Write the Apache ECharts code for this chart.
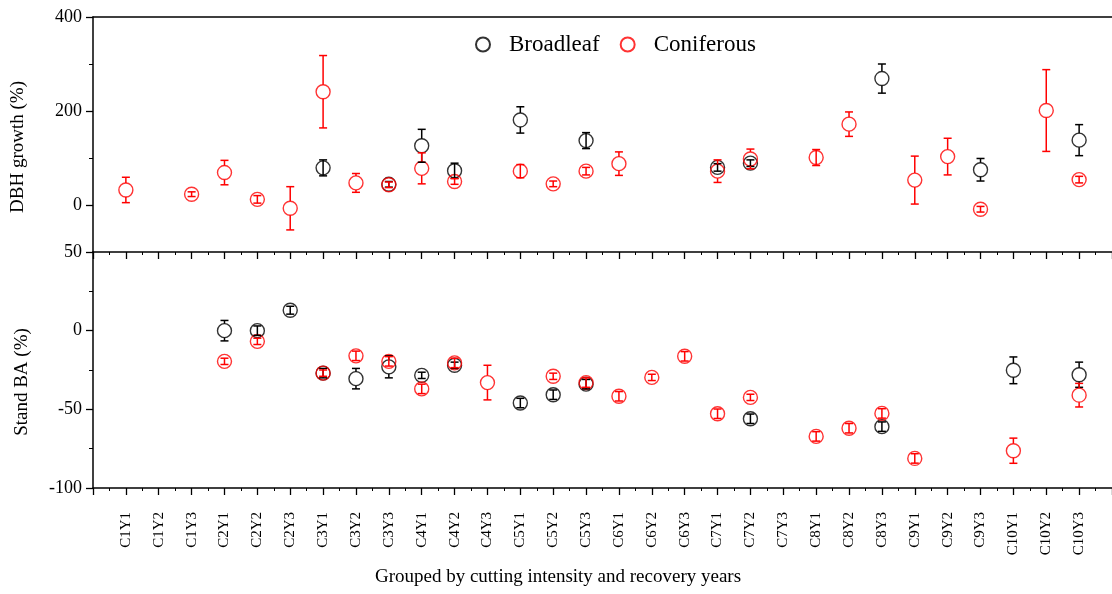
<!DOCTYPE html>
<html>
<head>
<meta charset="utf-8">
<script src="https://cdn.jsdelivr.net/npm/echarts@6/dist/echarts.min.js"></script>
<style>
html,body{margin:0;padding:0;background:#fff;}
#chart{width:1112px;height:594px;}
</style>
</head>
<body>
<div id="chart"></div>
<script>
// ---- Data ----
var categories = ['C1Y1','C1Y2','C1Y3','C2Y1','C2Y2','C2Y3','C3Y1','C3Y2','C3Y3','C4Y1','C4Y2','C4Y3','C5Y1','C5Y2','C5Y3','C6Y1','C6Y2','C6Y3','C7Y1','C7Y2','C7Y3','C8Y1','C8Y2','C8Y3','C9Y1','C9Y2','C9Y3','C10Y1','C10Y2','C10Y3'];

// DBH growth (%) — mean values and error (±)
var dbhBroadleaf    = [null,null,null,null,null,null,79,null,44,126,73,null,181,null,137,null,null,null,80,89,null,null,null,269,null,null,75,null,null,138];
var dbhBroadleafErr = [null,null,null,null,null,null,17,null,6,35,16,null,28,null,17,null,null,null,8,7,null,null,null,31,null,null,24,null,null,33];
var dbhConiferous    = [32,null,23,69,12,-7,241,47,43,78,50,null,72,45,72,88,null,null,72,98,null,101,172,null,53,103,-9,null,201,54];
var dbhConiferousErr = [27,null,5,26,8,46,77,20,6,33,6,null,14,6,8,25,null,null,24,21,null,17,26,null,51,39,6,null,87,7];

// Stand BA (%) — mean values and error (±)
var baBroadleaf    = [null,null,null,0,0,13,-27,-30.5,-23,-28.4,-22,null,-46,-40.7,-34,null,null,null,null,-56,null,null,null,-61,null,null,null,-25.2,null,-28];
var baBroadleafErr = [null,null,null,6.5,3,2.5,3,6.5,7,2,2,null,3,3,3,null,null,null,null,3,null,null,null,3,null,null,null,8.5,null,8];
var baConiferous    = [null,null,null,-19.5,-6.8,null,-27,-16,-19.5,-37,-20.5,-33,null,-29,-33,-41.7,-29.7,-16.3,-52.8,-42.4,null,-67.2,-62,-52.6,-81.2,null,null,-76.3,null,-41];
var baConiferousErr = [null,null,null,2,2,null,2,3,3,3,3,11,null,2,3,3,2,3,3,2,null,3,3,3,3,null,null,8,null,7.5];

var dbhTicks = [0, 200, 400];
var dbhMinorTicks = [100, 300];

// ---- Build ----
var FONT = 'Liberation Serif, Times New Roman, serif';
var RED = '#ff0000', BLACK = '#000000';
var SYM = 14;

function points(vals){
  var out = [];
  vals.forEach(function(v,i){ if(v !== null) out.push([i+1, v]); });
  return out;
}
function errData(vals, errs){
  var out = [];
  vals.forEach(function(v,i){ if(v !== null && errs[i] !== null) out.push([i+1, v - errs[i], v + errs[i], v]); });
  return out;
}
function errRender(color){
  return function(params, api){
    var x = api.value(0);
    var top = api.coord([x, api.value(2)]);
    var bot = api.coord([x, api.value(1)]);
    var mid = api.coord([x, api.value(3)]);
    var hw = 4, r = SYM/2;
    var children = [];
    var st = {stroke: color, lineWidth: 1.5};
    if (mid[1] - top[1] > r + 1) {
      children.push({type:'line', shape:{x1:top[0], y1:top[1], x2:top[0], y2:mid[1]-r}, style:st});
      children.push({type:'line', shape:{x1:bot[0], y1:mid[1]+r, x2:bot[0], y2:bot[1]}, style:st});
    } else {
      children.push({type:'line', shape:{x1:top[0], y1:top[1], x2:bot[0], y2:bot[1]}, style:st});
    }
    children.push({type:'line', shape:{x1:top[0]-hw, y1:top[1], x2:top[0]+hw, y2:top[1]}, style:st});
    children.push({type:'line', shape:{x1:bot[0]-hw, y1:bot[1], x2:bot[0]+hw, y2:bot[1]}, style:st});
    return {type:'group', children: children};
  };
}
function scatter(name, vals, color, xi, yi){
  return {
    type:'scatter', name:name, xAxisIndex:xi, yAxisIndex:yi,
    data: points(vals), symbol:'circle', symbolSize:SYM,
    itemStyle:{color:'rgba(0,0,0,0)', borderColor:color, borderWidth:1.4},
    emphasis:{disabled:true}, z:3
  };
}
function errSeries(name, vals, errs, color, xi, yi){
  return {
    type:'custom', name:name, xAxisIndex:xi, yAxisIndex:yi,
    data: errData(vals, errs), renderItem: errRender(color),
    encode:{x:0, y:[1,2]}, z:4, silent:true
  };
}

var axisLineStyle = {color:'#000', width:1.5};

var option = {
  animation:false,
  backgroundColor:'#fff',
  grid:[
    {left:93, top:17, width:1021, height:235},
    {left:93, top:252, width:1021, height:236}
  ],
  legend:{
    data:['Broadleaf','Coniferous'],
    left:470, top:28,
    itemWidth:42, itemHeight:14, itemGap:20,
    textStyle:{color:'#000', fontFamily:FONT, fontSize:23},
    selectedMode:false
  },
  xAxis:[
    { // top panel bottom axis
      type:'value', gridIndex:0, min:0, max:31, interval:1, position:'bottom',
      axisLine:{show:true, onZero:false, lineStyle:axisLineStyle},
      axisTick:{show:true, inside:false, length:7, lineStyle:{color:'#000', width:1.3}},
      minorTick:{show:true, splitNumber:2, length:3, lineStyle:{color:'#000', width:1}},
      axisLabel:{show:false}, splitLine:{show:false}
    },
    { // top panel top border
      type:'value', gridIndex:0, min:0, max:31, position:'top',
      axisLine:{show:true, onZero:false, lineStyle:axisLineStyle},
      axisTick:{show:false}, axisLabel:{show:false}, splitLine:{show:false}
    },
    { // bottom panel x axis
      type:'value', gridIndex:1, min:0, max:31, interval:1, position:'bottom',
      axisLine:{show:true, onZero:false, lineStyle:axisLineStyle},
      axisTick:{show:true, inside:false, length:7, lineStyle:{color:'#000', width:1.3}},
      minorTick:{show:true, splitNumber:2, length:3, lineStyle:{color:'#000', width:1}},
      axisLabel:{show:true, rotate:90, margin:24, color:'#000', fontFamily:FONT, fontSize:15,
        formatter:function(v){ return categories[v-1] || ''; }},
      splitLine:{show:false}
    }
  ],
  yAxis:[
    { // top panel main
      type:'value', gridIndex:0, min:-100, max:400,
      axisLine:{show:true, onZero:false, lineStyle:axisLineStyle},
      axisTick:{show:true, length:7, customValues:dbhTicks, lineStyle:{color:'#000', width:1.3}},
      axisLabel:{show:true, margin:11, customValues:dbhTicks, color:'#000', fontFamily:FONT, fontSize:18},
      splitLine:{show:false}
    },
    { // top panel minor ticks
      type:'value', gridIndex:0, min:-100, max:400, position:'left',
      axisLine:{show:false},
      axisTick:{show:true, length:4, customValues:dbhMinorTicks, lineStyle:{color:'#000', width:1}},
      axisLabel:{show:false}, splitLine:{show:false}
    },
    { // bottom panel
      type:'value', gridIndex:1, min:-100, max:50, interval:50,
      axisLine:{show:true, onZero:false, lineStyle:axisLineStyle},
      axisTick:{show:true, length:7, lineStyle:{color:'#000', width:1.3}},
      minorTick:{show:true, splitNumber:2, length:4, lineStyle:{color:'#000', width:1}},
      axisLabel:{show:true, margin:11, color:'#000', fontFamily:FONT, fontSize:18},
      splitLine:{show:false}
    }
  ],
  graphic:[
    {type:'text', x:18, y:147, rotation:Math.PI/2,
      style:{text:'DBH growth (%)', fill:'#000', font:'19px ' + FONT, textAlign:'center', textVerticalAlign:'middle'}},
    {type:'text', x:22, y:382, rotation:Math.PI/2,
      style:{text:'Stand BA (%)', fill:'#000', font:'19px ' + FONT, textAlign:'center', textVerticalAlign:'middle'}},
    {type:'text', x:558, y:577,
      style:{text:'Grouped by cutting intensity and recovery years', fill:'#000', font:'19px ' + FONT, textAlign:'center', textVerticalAlign:'middle'}}
  ],
  series:[
    scatter('Broadleaf', dbhBroadleaf, BLACK, 0, 0),
    scatter('Coniferous', dbhConiferous, RED, 0, 0),
    errSeries('BroadleafErrDBH', dbhBroadleaf, dbhBroadleafErr, BLACK, 0, 0),
    errSeries('ConiferousErrDBH', dbhConiferous, dbhConiferousErr, RED, 0, 0),
    scatter('Broadleaf', baBroadleaf, BLACK, 2, 2),
    scatter('Coniferous', baConiferous, RED, 2, 2),
    errSeries('BroadleafErrBA', baBroadleaf, baBroadleafErr, BLACK, 2, 2),
    errSeries('ConiferousErrBA', baConiferous, baConiferousErr, RED, 2, 2)
  ]
};

var chart = echarts.init(document.getElementById('chart'), null, {renderer:'canvas'});
chart.setOption(option);
</script>
</body>
</html>
